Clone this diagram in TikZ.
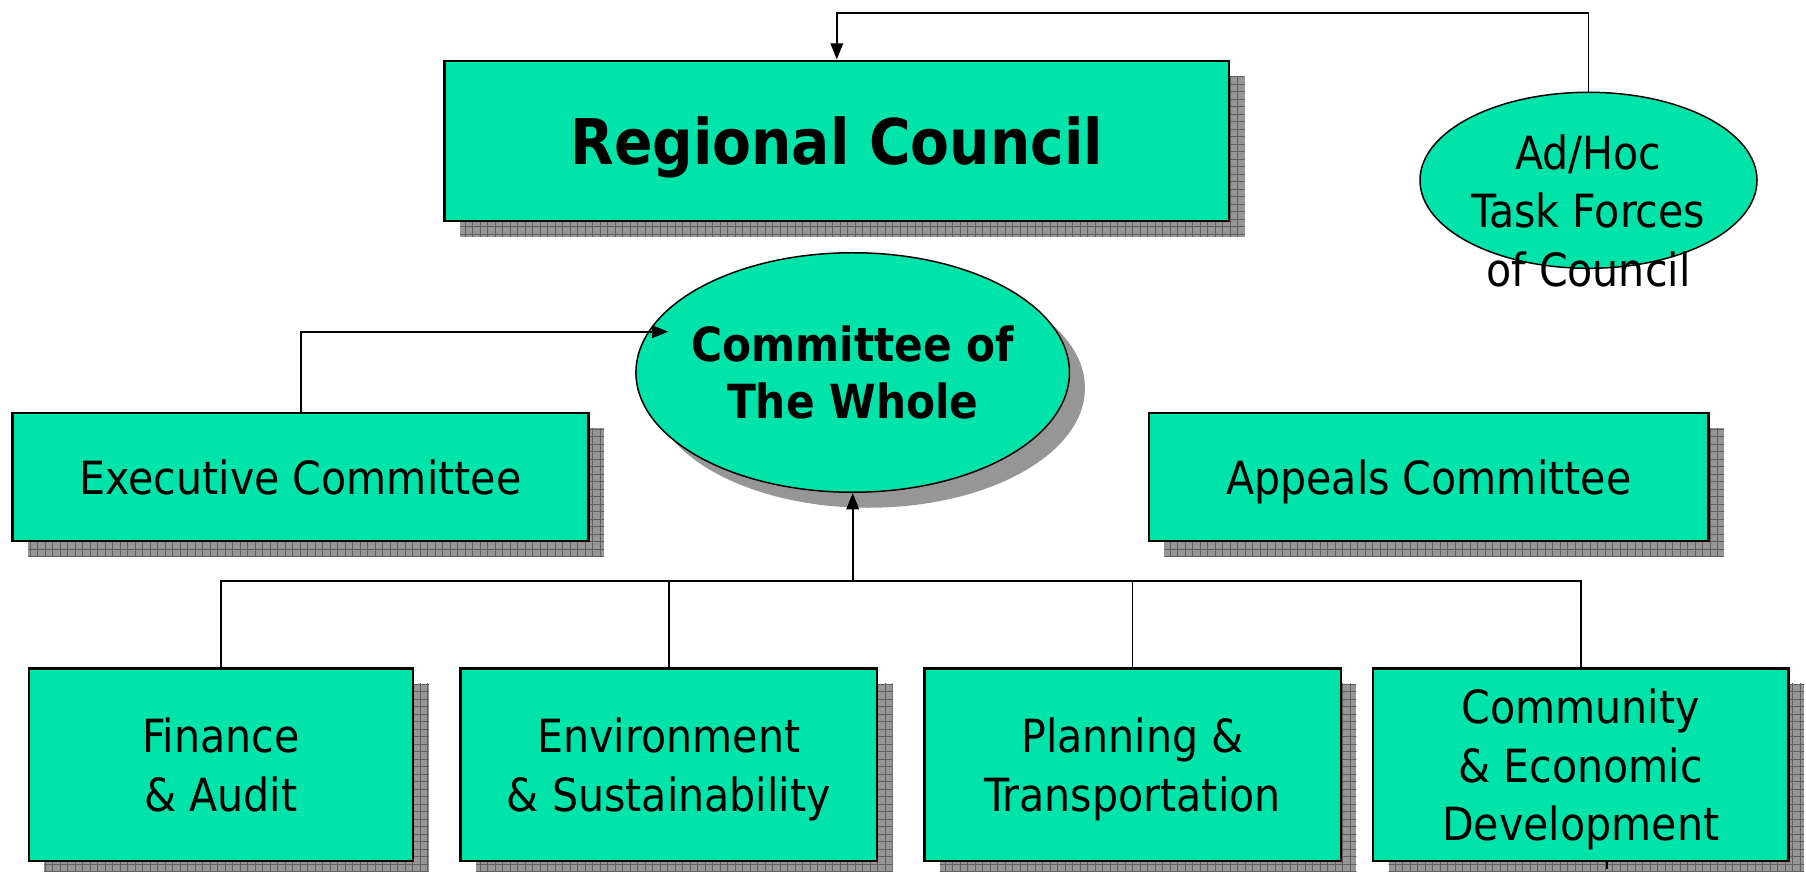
\documentclass[tikz,border=0pt]{standalone}
\usepackage{fontspec}
\setmainfont{DejaVu Sans Condensed}
\usetikzlibrary{shapes.geometric,shadows,arrows.meta,patterns}
\definecolor{mint}{RGB}{0,228,170}
\definecolor{shgray}{RGB}{150,150,150}
\definecolor{shline}{RGB}{95,95,95}
\newcommand\txtfont{\fontsize{18.3pt}{23.3pt}\selectfont}
\newcommand\cowfont{\bfseries\fontsize{18.8pt}{22.9pt}\selectfont}
\newcommand\rcfont{\bfseries\fontsize{25.2pt}{30pt}\selectfont}
\tikzset{
  box/.style={draw=black, line width=1pt, fill=mint, inner sep=0pt, text depth=0pt,
    align=center, font=\txtfont,
    general shadow={shadow xshift=6.2pt, shadow yshift=-6.2pt, fill=shgray},
    general shadow={shadow xshift=6.2pt, shadow yshift=-6.2pt, pattern=grid, pattern color=shline}},
  oval/.style={ellipse, draw=black, line width=0.6pt, fill=mint, inner sep=0pt},
  ovalshadow/.style={general shadow={shadow xshift=6.2pt, shadow yshift=-6.2pt, fill=shgray}},
  txt/.style={align=center, text depth=0pt, inner sep=0pt, font=\txtfont},
  conn/.style={line width=0.75pt, draw=black},
  tip/.style={-{Triangle[length=6.5pt,width=5pt]}},
}
\begin{document}
\begin{tikzpicture}[x=0.4pt,y=-0.4pt]
\useasboundingbox (0,0) rectangle (1806,872);

% boxes
\node[box, minimum width=313.8pt, minimum height=64.1pt, font=\rcfont] (rc) at (836.8,140.9) {Regional Council};
\node[box, minimum width=230.4pt, minimum height=51.3pt] (exec) at (300.6,476.9) {Executive Committee};
\node[box, minimum width=223.9pt, minimum height=51.3pt] (app) at (1428.8,476.9) {Appeals Committee};
\node[box, minimum width=153.7pt, minimum height=77.1pt] (fin) at (220.9,764.7) {Finance\\\& Audit};
\node[box, minimum width=166.6pt, minimum height=77.1pt] (env) at (668.9,764.7) {Environment\\\& Sustainability};
\node[box, minimum width=166.6pt, minimum height=77.1pt] (plan) at (1132.5,764.7) {Planning \&\\Transportation};
\node[box, minimum width=166.2pt, minimum height=77.1pt] (com) at (1580.8,764.7) {Community\\\& Economic\\Development};

% ellipses
\node[oval, ovalshadow, minimum width=173.4pt, minimum height=95.8pt,
  label={[txt, font=\cowfont]center:{Committee of\\The Whole}}] (cow) at (852.7,372.5) {};
\node[oval, minimum width=134.8pt, minimum height=70.4pt] (adhoc) at (1588.5,180.3) {};
\node[txt] (adhoctxt) at (1588.5,210.5) {Ad/Hoc\\Task Forces\\of Council};

% connectors
\coordinate (topbend) at (836.8,12.7);
\draw[conn, tip] (adhoc.north) |- (topbend) -- (rc.north);
\coordinate (cowin) at (668.3,331.7);
\draw[conn, tip] (exec.north) |- (cowin);
\coordinate (bus) at (852.7,581);
\draw[conn] (fin.north) |- (bus) -| (com.north);
\draw[conn] (env.north) -- (env.north |- bus);
\draw[conn] (plan.north) -- (plan.north |- bus);
\draw[conn, tip] (bus) -- (cow.south);

% small stray tick below the last box
\draw[line width=0.9pt] (1606.7,861.5) -- (1606.7,868.5);
\end{tikzpicture}
\end{document}
